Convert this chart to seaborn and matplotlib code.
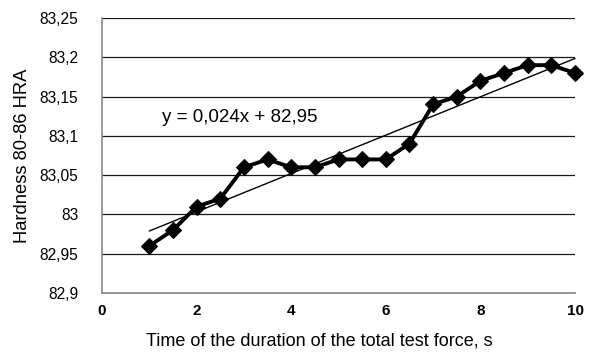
import numpy as np
import pandas as pd
import matplotlib
matplotlib.use("Agg")
import matplotlib.pyplot as plt
from matplotlib.ticker import FixedLocator, FuncFormatter
import seaborn as sns

# Measured hardness over the holding time of the total test force
time_s = [1, 1.5, 2, 2.5, 3, 3.5, 4, 4.5, 5, 5.5, 6, 6.5, 7, 7.5, 8, 8.5, 9, 9.5, 10]
hardness = [82.96, 82.98, 83.01, 83.02, 83.06, 83.07, 83.06, 83.06, 83.07, 83.07,
            83.07, 83.09, 83.14, 83.15, 83.17, 83.18, 83.19, 83.19, 83.18]

# Linear trend coefficients
trend_slope = 0.0244
trend_intercept = 82.9545

x_ticks = [0, 2, 4, 6, 8, 10]
y_ticks = [82.9, 82.95, 83.0, 83.05, 83.1, 83.15, 83.2, 83.25]

x_label = "Time of the duration of the total test force, s"
y_label = "Hardness 80-86 HRA"

sns.set_theme(style="white")
plt.rcParams["font.family"] = ["Liberation Sans", "DejaVu Sans"]

df = pd.DataFrame({"t": time_s, "hra": hardness})
trend = pd.DataFrame({"t": [time_s[0], time_s[-1]]})
trend["hra"] = trend_slope * trend["t"] + trend_intercept

fig = plt.figure(figsize=(5.93, 3.62), dpi=100)
ax = fig.add_axes([102 / 593, 1 - 293 / 362, (575 - 102) / 593, (293 - 18) / 362])

for yv in y_ticks:
    ax.axhline(yv, color="#1a1a1a", lw=0.9, zorder=1)

sns.lineplot(data=df, x="t", y="hra", ax=ax, color="black", lw=2.8,
             marker="D", markersize=8.5, markeredgecolor="black", zorder=3,
             clip_on=False)
sns.lineplot(data=trend, x="t", y="hra", ax=ax, color="black", lw=1.0, zorder=4,
             clip_on=False)

ax.set_xlim(0, 10)
ax.set_ylim(82.9, 83.25)
ax.xaxis.set_major_locator(FixedLocator(x_ticks))
ax.yaxis.set_major_locator(FixedLocator(y_ticks))
comma = FuncFormatter(lambda v, p: f"{v:g}".replace(".", ","))
ax.xaxis.set_major_formatter(comma)
ax.yaxis.set_major_formatter(comma)
ax.tick_params(axis="x", length=0, pad=8, labelsize=11, colors="black")
ax.tick_params(axis="y", length=0, pad=17, labelsize=11.2, colors="black")
for lab in ax.get_xticklabels():
    lab.set_fontweight("bold")

ax.set_xlabel(x_label, fontsize=13, color="black")
ax.xaxis.set_label_coords((319 - 102) / 473, -0.175)
ax.xaxis.label.set_va("center")
ax.set_ylabel(y_label, fontsize=13.2, labelpad=6, color="black")

for side in ["top", "right"]:
    ax.spines[side].set_visible(False)
ax.spines["left"].set_color("#8a8a8a")
ax.spines["bottom"].set_color("#8a8a8a")
ax.spines["left"].set_linewidth(1.2)

eq = f"y = {trend_slope:.3f}x + {trend_intercept:.2f}".replace(".", ",")
ax.text(1.27, 83.123, eq, fontsize=13.5, color="black", va="center", ha="left")

ax.set_facecolor("white")
fig.patch.set_facecolor("white")
fig.savefig("out.png", dpi=100, facecolor="white")
